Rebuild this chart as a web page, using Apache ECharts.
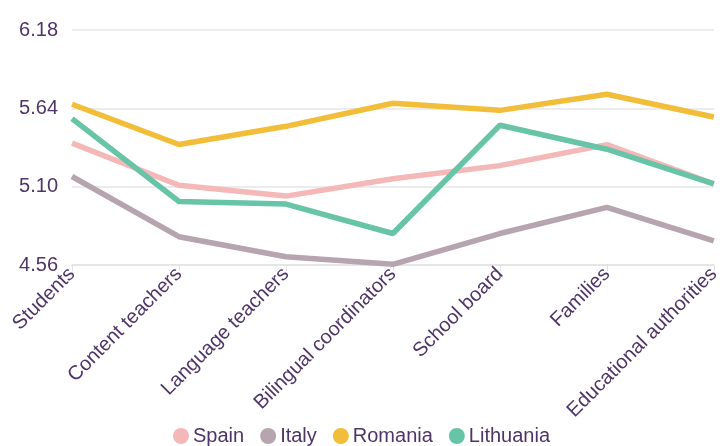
<!DOCTYPE html>
<html><head><meta charset="utf-8">
<script src="https://cdn.jsdelivr.net/npm/echarts@6/dist/echarts.min.js"></script>
<style>html,body{margin:0;padding:0;background:#fff}#c{width:723px;height:446px}</style>
</head><body><div id="c"></div>
<script>
const categories = ["Students","Content teachers","Language teachers","Bilingual coordinators","School board","Families","Educational authorities"];
const spain = [5.40, 5.11, 5.035, 5.155, 5.245, 5.39, 5.12];
const italy = [5.17, 4.755, 4.617, 4.565, 4.777, 4.957, 4.726];
const romania = [5.668, 5.391, 5.516, 5.675, 5.626, 5.737, 5.58];
const lithuania = [5.569, 4.998, 4.98, 4.777, 5.523, 5.358, 5.12];
const yTicks = [4.56, 5.10, 5.64, 6.18];
const seriesNames = ["Spain","Italy","Romania","Lithuania"];
const colors = ["#f5b8b8","#b6a4af","#f2be3a","#67c4a6"];
const textColor = "#4f3468";
const font = "'Liberation Sans', Arial, sans-serif";

const chart = echarts.init(document.getElementById('c'));
const dataSets = [spain, italy, romania, lithuania];
chart.setOption({
  animation: false,
  color: colors,
  grid: {left: 72, right: 7, top: 30, bottom: 181, containLabel: false},
  legend: {
    bottom: -5, left: 'center', icon: 'circle', itemWidth: 16, itemHeight: 16, itemGap: 16,
    textStyle: {color: textColor, fontSize: 20, fontFamily: font, padding: [0,0,0,-1]},
    data: seriesNames
  },
  xAxis: {
    type: 'category', data: categories, boundaryGap: false,
    axisLine: {lineStyle: {color: '#e2e2e2', width: 1.5}},
    axisTick: {show: true, length: 6, lineStyle: {color: '#e2e2e2'}},
    axisLabel: {rotate: 45, color: textColor, fontSize: 20, fontFamily: font, margin: 6, interval: 0}
  },
  yAxis: {
    type: 'value', min: yTicks[0], max: yTicks[yTicks.length-1], interval: yTicks[1]-yTicks[0],
    axisLine: {show: false}, axisTick: {show: false},
    splitLine: {lineStyle: {color: '#e6e6e6', width: 1.5}},
    axisLabel: {color: textColor, fontSize: 20, fontFamily: font, margin: 14,
      formatter: v => v.toFixed(2)}
  },
  series: seriesNames.map((n, i) => ({
    name: n, type: 'line', data: dataSets[i], symbol: 'none',
    lineStyle: {width: 5.5, color: colors[i]}
  }))
});
</script></body></html>
